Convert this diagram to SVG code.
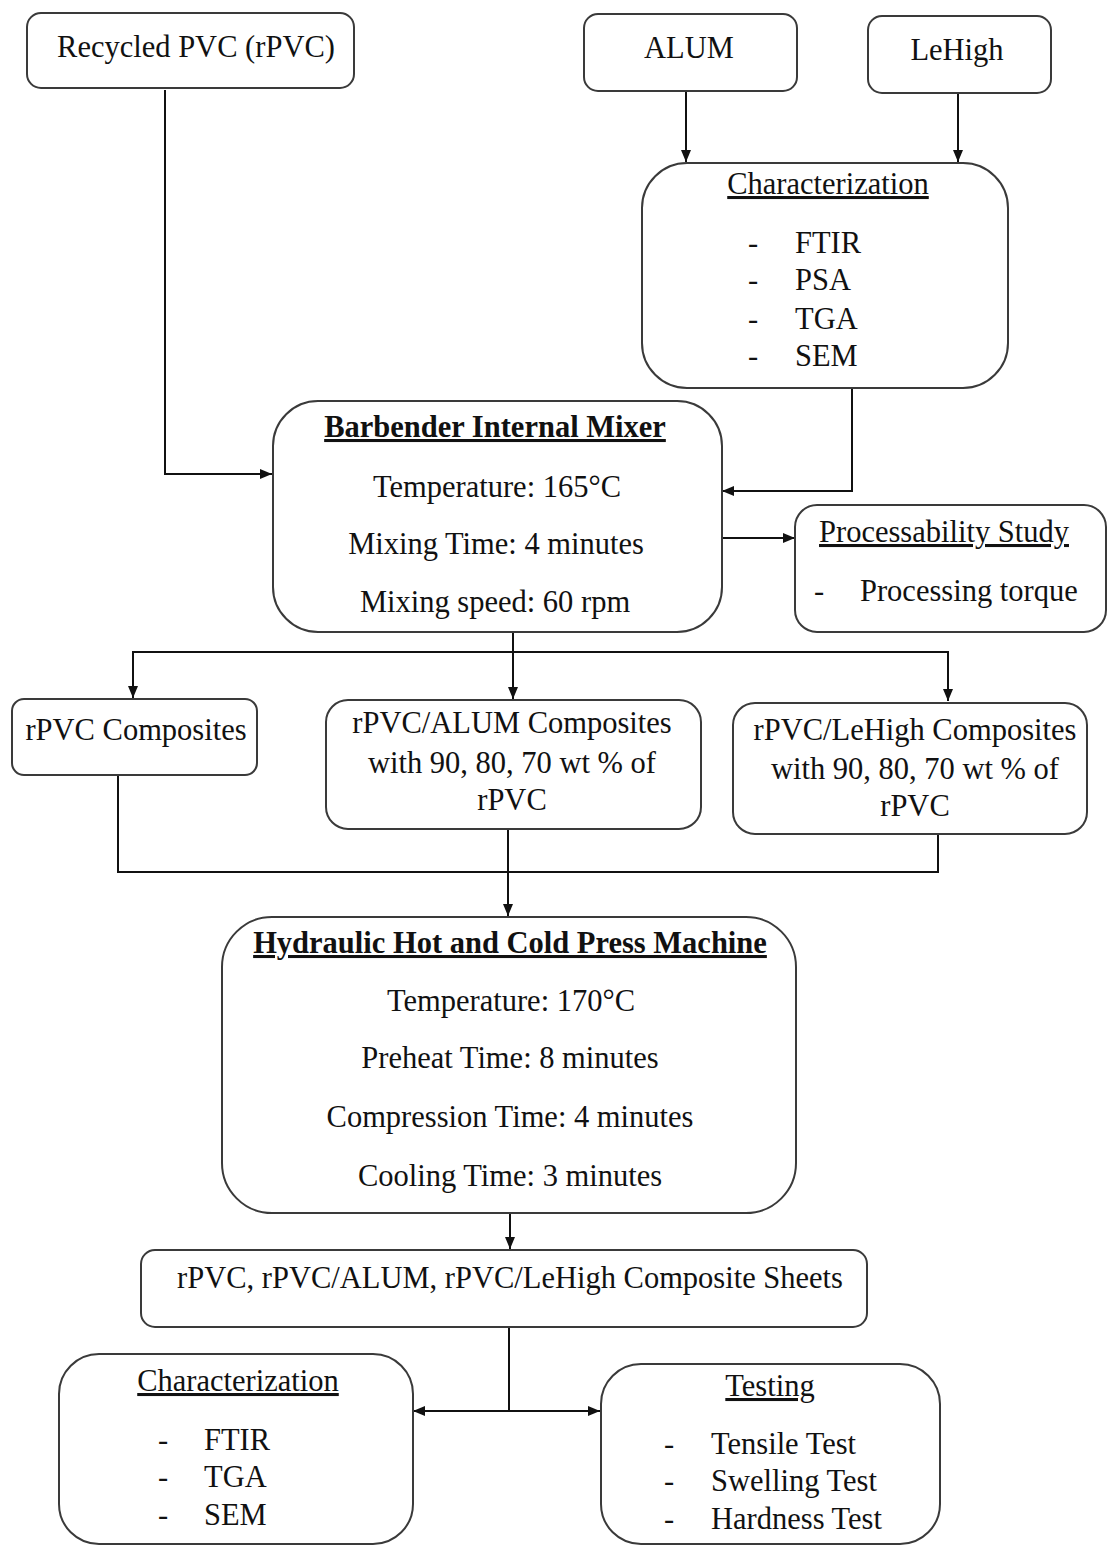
<svg xmlns="http://www.w3.org/2000/svg" width="1107" height="1546" viewBox="0 0 1107 1546">
<style>
.box{fill:#fff;stroke:#3a3a3a;stroke-width:2}
.t{font-family:"Liberation Serif","Times New Roman",serif;font-size:30.5px;fill:#111}
.c{text-anchor:middle}
.b{font-weight:bold}
.u{text-decoration:underline}
.ln{fill:none;stroke:#111;stroke-width:2}
</style>
<defs>
<marker id="ah" viewBox="0 0 12 10" refX="12" refY="5" markerWidth="12" markerHeight="10" markerUnits="userSpaceOnUse" orient="auto-start-reverse">
<path d="M0,0 L12,5 L0,10 z" fill="#111"/>
</marker>
</defs>
<rect width="1107" height="1546" fill="#fff"/>

<g id="connectors">
<path class="ln" d="M165,90 V474 H272" marker-end="url(#ah)"/>
<path class="ln" d="M686,92 V162" marker-end="url(#ah)"/>
<path class="ln" d="M958,93 V162" marker-end="url(#ah)"/>
<path class="ln" d="M852,388 V491 H722" marker-end="url(#ah)"/>
<path class="ln" d="M722,538 H795" marker-end="url(#ah)"/>
<path class="ln" d="M513,632 V652"/>
<path class="ln" d="M133,698 V652 H948 V701" marker-start="url(#ah)" marker-end="url(#ah)"/>
<path class="ln" d="M513,652 V699" marker-end="url(#ah)"/>
<path class="ln" d="M118,775 V872 H938 V834"/>
<path class="ln" d="M508,829 V916" marker-end="url(#ah)"/>
<path class="ln" d="M510,1213 V1249" marker-end="url(#ah)"/>
<path class="ln" d="M509,1327 V1411"/>
<path class="ln" d="M413,1411 H600" marker-start="url(#ah)" marker-end="url(#ah)"/>
</g>

<g id="rpvc">
<rect class="box" x="27" y="13" width="327" height="75" rx="14"/>
<text class="t c" x="196" y="57">Recycled PVC (rPVC)</text>
</g>
<g id="alum">
<rect class="box" x="584" y="14" width="213" height="77" rx="14"/>
<text class="t c" x="689" y="58">ALUM</text>
</g>
<g id="lehigh">
<rect class="box" x="868" y="16" width="183" height="77" rx="14"/>
<text class="t c" x="957" y="60">LeHigh</text>
</g>
<g id="char1">
<rect class="box" x="642" y="163" width="366" height="225" rx="45"/>
<text class="t c u" x="828" y="194">Characterization</text>
<text class="t" x="748" y="253">-</text><text class="t" x="795" y="253">FTIR</text>
<text class="t" x="748" y="290">-</text><text class="t" x="795" y="290">PSA</text>
<text class="t" x="748" y="329">-</text><text class="t" x="795" y="329">TGA</text>
<text class="t" x="748" y="366">-</text><text class="t" x="795" y="366">SEM</text>
</g>
<g id="mixer">
<rect class="box" x="273" y="401" width="449" height="231" rx="45"/>
<text class="t c b u" x="495" y="437">Barbender Internal Mixer</text>
<text class="t c" x="497" y="497">Temperature: 165°C</text>
<text class="t c" x="496" y="554">Mixing Time: 4 minutes</text>
<text class="t c" x="495" y="612">Mixing speed: 60 rpm</text>
</g>
<g id="process">
<rect class="box" x="795" y="505" width="311" height="127" rx="22"/>
<text class="t c u" x="944" y="542">Processability Study</text>
<text class="t" x="814" y="601">-</text><text class="t" x="860" y="601">Processing torque</text>
</g>
<g id="comp1">
<rect class="box" x="12" y="699" width="245" height="76" rx="12"/>
<text class="t c" x="136" y="740">rPVC Composites</text>
</g>
<g id="comp2">
<rect class="box" x="326" y="700" width="375" height="129" rx="22"/>
<text class="t c" x="512" y="733">rPVC/ALUM Composites</text>
<text class="t c" x="512" y="773">with 90, 80, 70 wt % of</text>
<text class="t c" x="512" y="810">rPVC</text>
</g>
<g id="comp3">
<rect class="box" x="733" y="703" width="354" height="131" rx="22"/>
<text class="t c" x="915" y="740">rPVC/LeHigh Composites</text>
<text class="t c" x="915" y="779">with 90, 80, 70 wt % of</text>
<text class="t c" x="915" y="816">rPVC</text>
</g>
<g id="press">
<rect class="box" x="222" y="917" width="574" height="296" rx="50"/>
<text class="t c b u" x="510" y="953">Hydraulic Hot and Cold Press Machine</text>
<text class="t c" x="511" y="1011">Temperature: 170°C</text>
<text class="t c" x="510" y="1068">Preheat Time: 8 minutes</text>
<text class="t c" x="510" y="1127">Compression Time: 4 minutes</text>
<text class="t c" x="510" y="1186">Cooling Time: 3 minutes</text>
</g>
<g id="sheets">
<rect class="box" x="141" y="1250" width="726" height="77" rx="14"/>
<text class="t c" x="510" y="1288">rPVC, rPVC/ALUM, rPVC/LeHigh Composite Sheets</text>
</g>
<g id="char2">
<rect class="box" x="59" y="1354" width="354" height="190" rx="40"/>
<text class="t c u" x="238" y="1391">Characterization</text>
<text class="t" x="158" y="1450">-</text><text class="t" x="204" y="1450">FTIR</text>
<text class="t" x="158" y="1487">-</text><text class="t" x="204" y="1487">TGA</text>
<text class="t" x="158" y="1525">-</text><text class="t" x="204" y="1525">SEM</text>
</g>
<g id="testing">
<rect class="box" x="601" y="1364" width="339" height="180" rx="40"/>
<text class="t c u" x="770" y="1396">Testing</text>
<text class="t" x="664" y="1454">-</text><text class="t" x="711" y="1454">Tensile Test</text>
<text class="t" x="664" y="1491">-</text><text class="t" x="711" y="1491">Swelling Test</text>
<text class="t" x="664" y="1529">-</text><text class="t" x="711" y="1529">Hardness Test</text>
</g>
</svg>
